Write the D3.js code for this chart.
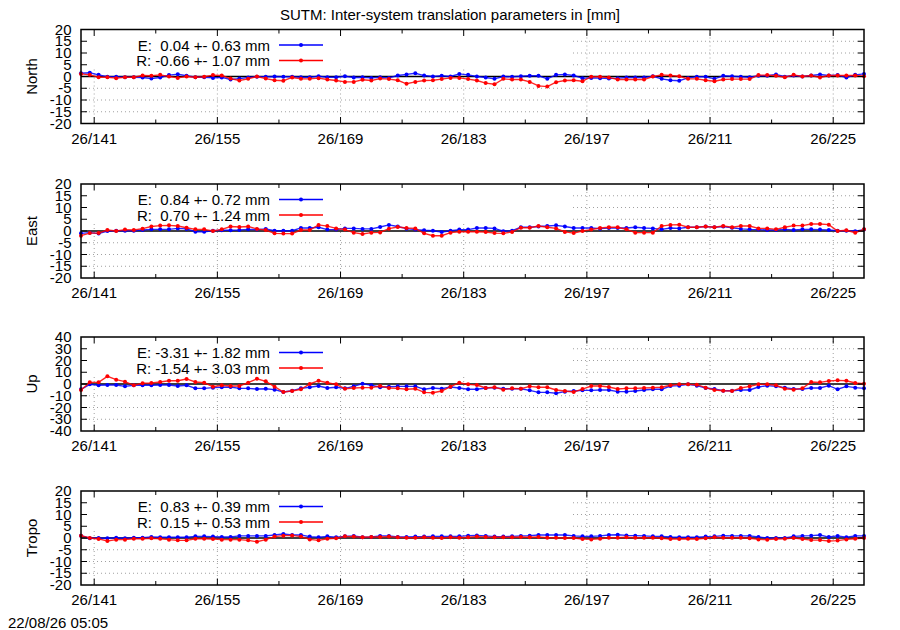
<!DOCTYPE html>
<html><head><meta charset="utf-8">
<script src="https://cdn.jsdelivr.net/npm/d3@7"></script>
<style>
body{margin:0;background:#fff}
svg{display:block}
text{font-family:"Liberation Sans",Arial,sans-serif;fill:#000}
</style>
</head><body>
<svg id="c" width="900" height="630"></svg>
<script>
const title = "SUTM: Inter-system translation parameters in [mm]";
const stamp = "22/08/26 05:05";

const epochs = [139.5,140.5,141.5,142.5,143.5,144.5,145.5,146.5,147.5,148.5,
149.5,150.5,151.5,152.5,153.5,154.5,155.5,156.5,157.5,158.5,
159.5,160.5,161.5,162.5,163.5,164.5,165.5,166.5,167.5,168.5,
169.5,170.5,171.5,172.5,173.5,174.5,175.5,176.5,177.5,178.5,
179.5,180.5,181.5,182.5,183.5,184.5,185.5,186.5,187.5,188.5,
189.5,190.5,191.5,192.5,193.5,194.5,195.5,196.5,197.5,198.5,
199.5,200.5,201.5,202.5,203.5,204.5,205.5,206.5,207.5,208.5,
209.5,210.5,211.5,212.5,213.5,214.5,215.5,216.5,217.5,218.5,
219.5,220.5,221.5,222.5,223.5,224.5,225.5,226.5,227.5,228.5];

const xDomain = [139.5, 228.5];
const xMajorTicks = [141,155,169,183,197,211,225];
const xTickLabels = ["26/141","26/155","26/169","26/183","26/197","26/211","26/225"];
const xMinorTicks = [148,162,176,190,204,218];

const panelNames = ["North","East","Up","Tropo"];
const yTicks20 = [-20,-15,-10,-5,0,5,10,15,20];
const yTicks40 = [-40,-30,-20,-10,0,10,20,30,40];
const legendE = ["E:\u00a0\u00a00.04 +- 0.63 mm","E:\u00a0\u00a00.84 +- 0.72 mm","E:\u00a0-3.31 +- 1.82 mm","E:\u00a0\u00a00.83 +- 0.39 mm"];
const legendR = ["R:\u00a0-0.66 +- 1.07 mm","R:\u00a0\u00a00.70 +- 1.24 mm","R:\u00a0-1.54 +- 3.03 mm","R:\u00a0\u00a00.15 +- 0.53 mm"];

const northE = [1.4,1.6,0.7,-0.1,-0.1,-0.3,-0.3,-0.4,-0.9,-0.4, 0.6,1.0,0.3,-0.3,-0.3,-0.6,-0.4,-1.3,-0.9,-0.4, -0.1,-0.1,0,-0.1,-0.1,-0.3,-0.3,0.1,-0.3,-0.3, 0.1,-0.4,-0.3,-0.6,-0.3,-0.6,0.4,0.9,1.4,0.4, 0,0.3,
 0,1.1,0.7,0,-0.4,-1.0,0,-0.1,0.1,0.3, 0.3,-1.0,0.7,0.9,0.4,-0.7,-0.6,-0.7,-0.9,-0.7, -0.4,-0.4,-0.4,0.1,-1.0,-1.6,-1.8,-0.6,-0.1,-0.1, -1.0,0.3,0.1,-0.1,-0.3,0.3,0.3,0.9,-0.1,0.4, 0,0.4,0.9,0.4,0.6,-0.4,0.7,1.1];
const northR = [1.1,0.7,-0.3,-0.3,-0.7,-0.3,-0.3,0.4,0.3,0.7, 0,-0.6,0,-0.3,-0.1,0.6,0.4,-0.9,-1.7,-1.0, 0,-0.9,-1.6,-1.8,-0.4,-1.0,-1.0,-0.7,-1.3,-1.7, -2.3,-2.3,-1.4,-1.7,-0.9,-1.1,-1.6,-3.1,-2.3,-1.7, -1.6,-1.1,
 -0.6,-0.6,-1.1,-1.7,-2.8,-3.3,-1.0,-1.3,-1.3,-2.3, -4.0,-4.3,-2.4,-1.7,-1.6,-2.0,-0.1,-0.1,-0.4,-1.3, -1.3,-1.3,-1.3,0,0.7,0.4,0.1,-1.0,-1.0,-1.6, -2.0,-1.3,-1.1,-1.1,-1.1,0.6,0.6,0.3,-0.3,0.7, 0,0.4,-0.4,0.4,0.4,0.4,0.4,0.1];
const eastE = [-1.0,-0.7,-1.1,0,0.1,0.1,0.1,0.4,0.7,0.7, 0.7,1.1,0.9,-0.3,-0.3,0.1,0.3,0.3,0.4,0.7, 0.6,0.9,0.1,0.1,0.1,1.3,1.3,1.6,0.6,0.6, 1.1,1.1,0.9,0.9,1.7,2.6,1.9,1.0,0.6,0.3, 0.1,-0.4,
 0.1,0.6,0.6,1.3,1.3,1.1,-0.1,0.1,1.6,1.6, 1.9,2.1,2.4,1.9,1.3,1.3,1.3,1.0,1.3,1.3, 1.3,1.6,1.3,1.1,0.7,1.3,1.1,1.6,1.6,1.9, 1.6,1.9,1.4,0.9,0.7,0.6,0.4,0.4,0.7,0.4, 0.7,0.7,0.6,0.4,0.1,0.1,-0.1,0.6];
const eastR = [-2.0,-0.9,-0.9,0.4,0,0.6,0.4,1.0,1.9,2.3, 2.4,2.1,1.4,0.7,0.7,0,0.7,1.9,1.7,1.9, 0.9,0.4,-1.0,-1.1,-1.1,0.4,0.4,2.6,2.1,1.1, 0.6,-0.7,-1.3,-0.7,-0.6,1.0,1.7,1.3,1.1,-1.0, -2.0,-2.0,
 -0.7,-0.3,-0.3,-0.3,-0.4,-0.9,-1.0,-0.4,1.4,1.4, 2.1,1.6,1.1,-0.4,-0.9,0,0.6,1.3,1.6,1.6, 0.7,-0.7,-0.7,-0.7,2.1,2.6,2.7,1.6,1.6,1.9, 1.6,2.1,1.6,2.1,2.1,1.1,1.1,0.7,1.6,2.3, 2.3,3.0,3.0,2.7,0,0.3,-0.7,0.7];
const upE = [-4.5,-0.3,-1.1,-0.9,-0.9,-2.0,-1.1,-1.1,-1.1,-0.9, -0.9,-1.7,-1.1,-3.7,-3.7,-3.1,-2.8,-2.6,-3.7,-3.7, -4.3,-4.0,-4.8,-6.8,-5.7,-3.7,-2.8,-1.7,-3.4,-2.8, -3.7,-2.0,0.3,-1.1,-2.8,-2.3,-2.0,-2.0,-2.0,-4.5, -3.4,-4.0,
 -2.6,-3.4,-4.5,-4.5,-3.4,-3.1,-4.0,-4.0,-4.0,-5.4, -7.1,-7.1,-7.9,-6.5,-6.0,-5.4,-5.4,-5.1,-5.1,-6.5, -6.5,-6.0,-5.1,-4.5,-4.5,-1.7,-1.4,-0.3,-1.4,-3.4, -4.3,-5.7,-5.7,-5.1,-5.1,-2.6,-1.4,-2.0,-3.1,-4.3, -4.3,-3.4,-3.4,-1.4,-4.5,-2.0,-3.1,-3.7];
const upR = [-5.1,1.4,1.4,6.5,3.7,2.0,-1.1,0.6,0.9,1.7, 2.8,2.8,4.3,1.7,1.1,-2.3,-1.1,-1.7,-1.7,1.1, 4.5,2.3,-2.3,-6.8,-6.0,-4.5,0,2.8,1.1,-0.3, -4.0,-3.4,-3.1,-3.1,-1.7,-3.4,-3.7,-4.5,-4.0,-7.1, -7.4,-6.0,
 -2.3,1.1,-0.3,-0.9,-3.4,-2.8,-4.8,-3.7,-4.0,-2.0, -2.8,-2.8,-5.1,-6.0,-6.8,-4.3,-1.7,-1.7,-2.6,-4.3, -3.7,-3.7,-3.4,-3.1,-2.8,-1.1,-0.3,-0.3,-0.6,-3.1, -5.1,-5.7,-6.0,-3.4,-2.0,-0.3,-0.3,-1.1,-4.0,-4.8, -3.7,1.7,1.4,2.6,3.1,2.8,0.9,0.3];
const tropoE = [1.0,-0.1,0,-0.1,0.1,-0.1,0.1,0.1,0.4,0.3, 0.3,0.3,0.3,0.7,0.7,0.6,0.4,0.4,0.9,0.9, 0.9,0.9,1.3,1.7,1.3,1.3,0.6,0.3,0.7,0.3, 0.7,0.9,0.3,0.4,0.9,0.9,0.4,0.4,0.6,0.6, 0.7,0.7,
 0.7,0.7,1.0,1.1,0.9,0.6,0.6,0.7,0.9,1.0, 1.3,1.3,1.3,1.3,0.9,0.7,0.7,0.9,1.3,1.4, 1.1,1.0,0.9,0.7,0.7,0.4,0.3,0.3,0.3,0.6, 0.7,1.0,0.9,0.9,0.9,0.4,0,0,0,0.7, 0.9,1.0,1.3,0.4,0.9,0.3,0.9,0.9];
const tropoR = [1.0,0,-0.4,-1.3,-0.7,-0.7,-0.3,-0.3,-0.1,-0.3, -0.7,-1.0,-1.0,-0.3,-0.3,-0.4,-0.7,-0.7,-0.7,-1.0, -1.6,-0.7,0.6,1.0,1.1,0.6,-0.6,-1.0,-0.3,-0.1, 0.7,0.6,0.3,0.4,0.4,0.6,0.3,0.1,0.1,0.3, 0.1,0,
 0.3,0.1,0.3,0.6,0.4,0.3,0.3,0.3,0.4,0.3, 0.4,0.1,0.1,0,0,-0.4,-0.6,-0.3,0.1,0.1, 0.3,0.1,0.1,0.1,-0.1,-0.4,-0.4,-0.3,-0.4,-0.1, 0.3,0.1,0.1,0.1,-0.1,-0.6,-0.7,-0.4,-0.3,0, -0.4,-0.9,-0.9,-1.3,-1.1,-0.6,-0.3,0];

const panels = [
  {name: panelNames[0], ticks: yTicks20, E: northE, R: northR, le: legendE[0], lr: legendR[0]},
  {name: panelNames[1], ticks: yTicks20, E: eastE,  R: eastR,  le: legendE[1], lr: legendR[1]},
  {name: panelNames[2], ticks: yTicks40, E: upE,    R: upR,    le: legendE[2], lr: legendR[2]},
  {name: panelNames[3], ticks: yTicks20, E: tropoE, R: tropoR, le: legendE[3], lr: legendR[3]}
];

const W = 900, H = 630;
const L = 81, Rt = 864;
const tops = [29.5, 184, 337, 491];
const PH = 94;
const FS = 15;
const colE = "#0000ff", colR = "#ff0000";
const gridCol = "#a0a0a0";

const svg = d3.select("#c");
svg.append("rect").attr("width", W).attr("height", H).attr("fill", "#fff");

svg.append("text").attr("x", 450).attr("y", 19.5).attr("text-anchor", "middle")
  .style("font-size", FS + "px").text(title);
svg.append("text").attr("x", 8).attr("y", 628).style("font-size", FS + "px").text(stamp);

const x = d3.scaleLinear().domain(xDomain).range([L, Rt]);

panels.forEach((p, pi) => {
  const top = tops[pi], bot = top + PH;
  const yMax = d3.max(p.ticks);
  const y = d3.scaleLinear().domain([-yMax, yMax]).range([bot, top]);
  const g = svg.append("g");

  // grid
  const inner = p.ticks.filter(t => Math.abs(t) !== yMax && t !== 0);
  g.selectAll(".hg").data(inner).join("line")
    .attr("x1", L).attr("x2", Rt).attr("y1", d => y(d)).attr("y2", d => y(d))
    .attr("stroke", gridCol).attr("stroke-width", 1).attr("stroke-dasharray", "1,3");
  g.selectAll(".vg").data(xMajorTicks).join("line")
    .attr("x1", d => x(d)).attr("x2", d => x(d)).attr("y1", top).attr("y2", bot)
    .attr("stroke", gridCol).attr("stroke-width", 1).attr("stroke-dasharray", "1,3");

  // opaque key box
  g.append("rect").attr("x", L + 1).attr("y", top + 1)
    .attr("width", 573 - L - 1).attr("height", y(0) - 9 - top - 1).attr("fill", "#fff");

  // zero line
  g.append("line").attr("x1", L).attr("x2", Rt).attr("y1", y(0)).attr("y2", y(0))
    .attr("stroke", "#000").attr("stroke-width", 1.5);

  // legend
  [[p.le, colE, 15.5], [p.lr, colR, 31]].forEach(([txt, col, dy]) => {
    g.append("text").attr("x", 270).attr("y", top + dy + 5.5).attr("text-anchor", "end")
      .style("font-size", FS + "px").text(txt);
    g.append("line").attr("x1", 279).attr("x2", 323).attr("y1", top + dy).attr("y2", top + dy)
      .attr("stroke", col).attr("stroke-width", 1.3);
    g.append("circle").attr("cx", 301).attr("cy", top + dy).attr("r", 2).attr("fill", col);
  });

  // data
  const clipId = "clip" + pi;
  svg.append("clipPath").attr("id", clipId).append("rect")
    .attr("x", L - 3).attr("y", top).attr("width", Rt - L + 6).attr("height", PH);
  const dg = g.append("g").attr("clip-path", `url(#${clipId})`);
  [[p.E, colE], [p.R, colR]].forEach(([vals, col]) => {
    const pts = epochs.map((e, i) => [e, vals[i]]);
    dg.append("path").datum(pts)
      .attr("d", d3.line().x(d => x(d[0])).y(d => y(d[1])))
      .attr("fill", "none").attr("stroke", col).attr("stroke-width", 1.4).attr("stroke-opacity", 0.85);
    dg.selectAll(null).data(pts).join("circle")
      .attr("cx", d => x(d[0])).attr("cy", d => y(d[1])).attr("r", 2).attr("fill", col);
  });

  // border
  g.append("rect").attr("x", L).attr("y", top).attr("width", Rt - L).attr("height", PH)
    .attr("fill", "none").attr("stroke", "#000").attr("stroke-width", 1.5);

  // ticks
  const tk = p.ticks.filter(t => Math.abs(t) !== yMax);
  g.selectAll(".ylt").data(tk).join("line")
    .attr("x1", L).attr("x2", L + 6).attr("y1", d => y(d)).attr("y2", d => y(d))
    .attr("stroke", "#000").attr("stroke-width", 1);
  g.selectAll(".yrt").data(tk).join("line")
    .attr("x1", Rt).attr("x2", Rt - 6).attr("y1", d => y(d)).attr("y2", d => y(d))
    .attr("stroke", "#000").attr("stroke-width", 1);
  [[top, 1], [bot, -1]].forEach(([yy, s]) => {
    g.selectAll(null).data(xMajorTicks).join("line")
      .attr("x1", d => x(d)).attr("x2", d => x(d)).attr("y1", yy).attr("y2", yy + s * 6.5)
      .attr("stroke", "#000").attr("stroke-width", 1);
    g.selectAll(null).data(xMinorTicks).join("line")
      .attr("x1", d => x(d)).attr("x2", d => x(d)).attr("y1", yy).attr("y2", yy + s * 4)
      .attr("stroke", "#000").attr("stroke-width", 1);
  });

  // tick labels
  g.selectAll(".ytl").data(p.ticks).join("text")
    .attr("x", 71.5).attr("y", d => y(d) + 5).attr("text-anchor", "end")
    .style("font-size", FS + "px").text(d => d);
  g.selectAll(".xtl").data(xMajorTicks).join("text")
    .attr("x", d => x(d)).attr("y", bot + 20).attr("text-anchor", "middle")
    .style("font-size", FS + "px").text((d, i) => xTickLabels[i]);

  // y axis name
  g.append("text").attr("transform", `translate(37,${top + PH / 2}) rotate(-90)`)
    .attr("text-anchor", "middle").style("font-size", FS + "px").text(p.name);
});
</script>
</body></html>
